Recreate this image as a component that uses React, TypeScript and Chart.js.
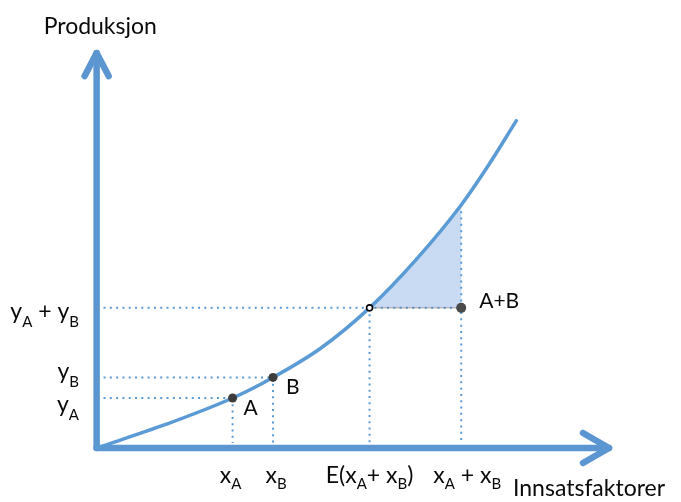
import React, { useEffect, useRef } from "react";
import { Chart, registerables } from "chart.js";

Chart.register(...registerables);

// Production curve (input on x, output on y)
const curveX = [0, 70, 138, 179, 227, 277, 324, 370, 398, 426];
const curveY = [0, 24, 51, 72, 101.5, 143, 192, 248, 289, 334];

// Marked points: A, B, E(xA+xB), A+B
const pointNames = ["A", "B", "E", "A+B"];
const pointX = [138, 179, 277, 370];
const pointY = [51, 72, 143, 143];

// Axis extents
const xAxisEnd = 520;
const yAxisEnd = 403;

// Tick labels ("_" = subscript of next char)
const xTickValues = [138, 179, 277, 370];
const xTickLabels = ["x_A", "x_B", "E(x_A+ x_B)", "x_A + x_B"];
const yTickValues = [51, 72, 143];
const yTickLabels = ["y_A", "y_B", "y_A + y_B"];

const yTitle = "Produksjon";
const xTitle = "Innsatsfaktorer";

const BLUE = "#5b9bd5";
const AXIS = "#5b96d0";
const FILL = "#c8dbf2";
const TEXT = "#0a0a0a";
const FONT = "Lato, 'Open Sans', sans-serif";

function drawRich(
  ctx: CanvasRenderingContext2D,
  text: string,
  x: number,
  y: number,
  align: "left" | "center" | "right",
  size: number,
  subSize: number,
  subShift: number
) {
  const parts: { t: string; sub: boolean }[] = [];
  let buf = "";
  for (let i = 0; i < text.length; i++) {
    if (text[i] === "_" && i + 1 < text.length) {
      if (buf) parts.push({ t: buf, sub: false });
      buf = "";
      parts.push({ t: text[i + 1], sub: true });
      i++;
    } else buf += text[i];
  }
  if (buf) parts.push({ t: buf, sub: false });
  const main = `${size}px ${FONT}`;
  const small = `${subSize}px ${FONT}`;
  let w = 0;
  const widths = parts.map((p) => {
    ctx.font = p.sub ? small : main;
    const m = ctx.measureText(p.t).width;
    w += m;
    return m;
  });
  let cx = align === "center" ? x - w / 2 : align === "right" ? x - w : x;
  ctx.textAlign = "left";
  ctx.textBaseline = "alphabetic";
  parts.forEach((p, i) => {
    ctx.font = p.sub ? small : main;
    ctx.fillText(p.t, cx, p.sub ? y + subShift : y);
    cx += widths[i];
  });
}

const CURVE_INDEX = 10;

const annotationPlugin = {
  id: "annotations",
  beforeDatasetsDraw(chart: any) {
    // shaded area between the curve and the yA+yB line, from E to A+B
    const ctx: CanvasRenderingContext2D = chart.ctx;
    const xs = chart.scales.x;
    const ys = chart.scales.y;
    const px = (v: number) => xs.getPixelForValue(v);
    const py = (v: number) => ys.getPixelForValue(v);
    const line = chart.getDatasetMeta(CURVE_INDEX).dataset;
    if (!line) return;
    line.updateControlPoints(chart.chartArea, "x");
    const x0 = px(pointX[2]);
    const x1 = px(pointX[3]);
    const yBase = py(pointY[2]);
    const yTop = py(curveY[curveY.length - 1]);
    ctx.save();
    ctx.beginPath();
    ctx.rect(x0, yTop, x1 - x0, yBase - yTop);
    ctx.clip();
    ctx.beginPath();
    line.path(ctx);
    ctx.lineTo(px(curveX[curveX.length - 1]), yBase);
    ctx.lineTo(px(curveX[0]), yBase);
    ctx.closePath();
    ctx.fillStyle = FILL;
    ctx.fill();
    ctx.restore();
  },
  afterDatasetsDraw(chart: any) {
    const ctx: CanvasRenderingContext2D = chart.ctx;
    const xs = chart.scales.x;
    const ys = chart.scales.y;
    const px = (v: number) => xs.getPixelForValue(v);
    const py = (v: number) => ys.getPixelForValue(v);
    ctx.save();

    // arrow heads
    ctx.strokeStyle = AXIS;
    ctx.lineWidth = 6.5;
    ctx.lineCap = "round";
    ctx.lineJoin = "round";
    const vx = px(0), vy = py(yAxisEnd);
    ctx.beginPath();
    ctx.moveTo(vx - 12, vy + 23);
    ctx.lineTo(vx, vy);
    ctx.lineTo(vx + 12, vy + 23);
    ctx.stroke();
    const hx = px(xAxisEnd), hy = py(0);
    ctx.beginPath();
    ctx.moveTo(hx - 26, hy - 15);
    ctx.lineTo(hx, hy);
    ctx.lineTo(hx - 26, hy + 15);
    ctx.stroke();

    ctx.fillStyle = TEXT;
    // x tick labels
    const xOff = [-2, 3, 0, 6];
    xTickLabels.forEach((l, i) => {
      drawRich(ctx, l, px(xTickValues[i]) + xOff[i], py(0) + 35, "center", 23, 15, 6);
    });
    // y tick labels
    const yOff = [13.5, 1.5, 11.5];
    yTickLabels.forEach((l, i) => {
      drawRich(ctx, l, 79, py(yTickValues[i]) + yOff[i], "right", 23, 15, 8);
    });
    // point labels
    const pOff = [
      [11, 17],
      [13, 17],
      null,
      [18, 0],
    ];
    pointNames.forEach((n, i) => {
      const o = pOff[i];
      if (!o) return;
      drawRich(ctx, n, px(pointX[i]) + o[0], py(pointY[i]) + o[1], "left", 21, 15, 6);
    });
    // axis titles
    drawRich(ctx, yTitle, px(0) - 53, py(yAxisEnd) - 19, "left", 23, 14, 6);
    drawRich(ctx, xTitle, px(xAxisEnd) - 96, py(0) + 48, "left", 23, 14, 6);
    ctx.restore();
  },
};

export default function App() {
  const ref = useRef<HTMLCanvasElement | null>(null);
  useEffect(() => {
    if (!ref.current) return;
    const curve = curveX.map((x, i) => ({ x, y: curveY[i] }));
    const iAB = curveX.indexOf(pointX[3]);
    const dotStart = 7;
    const dotEnd = 5;

    const dotted = (pts: { x: number; y: number }[]) => ({
      data: pts,
      borderColor: BLUE,
      borderWidth: 2,
      borderDash: [2, 4.3],
      pointRadius: 0,
      fill: false,
      order: 8,
    });

    const datasets: any[] = [
      // dotted guides A & B
      dotted([{ x: dotStart, y: pointY[0] }, { x: pointX[0], y: pointY[0] }]),
      dotted([{ x: pointX[0], y: pointY[0] }, { x: pointX[0], y: dotEnd }]),
      dotted([{ x: dotStart, y: pointY[1] }, { x: pointX[1], y: pointY[1] }]),
      dotted([{ x: pointX[1], y: pointY[1] }, { x: pointX[1], y: dotEnd }]),
      // yA+yB line through E to A+B
      dotted([{ x: dotStart, y: pointY[2] }, { x: pointX[3], y: pointY[3] }]),
      dotted([{ x: pointX[2], y: pointY[2] }, { x: pointX[2], y: dotEnd }]),
      dotted([{ x: pointX[3], y: curveY[iAB] }, { x: pointX[3], y: dotEnd }]),
      {
        data: [
          { x: pointX[2], y: pointY[2] },
          { x: pointX[3], y: pointY[3] },
        ],
        borderColor: "rgba(110,110,110,0.6)",
        borderWidth: 1,
        pointRadius: 0,
        fill: false,
        order: 7,
      },
      // axes
      {
        data: [{ x: 0, y: 0 }, { x: 0, y: yAxisEnd }],
        borderColor: AXIS,
        borderWidth: 6.5,
        borderCapStyle: "round",
        pointRadius: 0,
        fill: false,
        order: 5,
      },
      {
        data: [{ x: 0, y: 0 }, { x: xAxisEnd, y: 0 }],
        borderColor: AXIS,
        borderWidth: 6.5,
        borderCapStyle: "round",
        pointRadius: 0,
        fill: false,
        order: 5,
      },
      // curve (index CURVE_INDEX)
      {
        data: curve,
        borderColor: BLUE,
        borderWidth: 3.5,
        borderCapStyle: "round",
        cubicInterpolationMode: "monotone",
        pointRadius: 0,
        fill: false,
        order: 3,
      },
      // points
      {
        data: pointX.map((x, i) => ({ x, y: pointY[i] })),
        showLine: false,
        pointRadius: [4.5, 4.5, 3, 5],
        pointBackgroundColor: ["#3d3d3d", "#3d3d3d", "#ffffff", "#4a4a4a"],
        pointBorderColor: ["#3d3d3d", "#3d3d3d", "#000000", "#4a4a4a"],
        pointBorderWidth: [0, 0, 1.6, 0],
        order: 1,
      },
    ];

    const chart = new Chart(ref.current, {
      type: "line",
      data: { datasets },
      options: {
        animation: false,
        responsive: false,
        devicePixelRatio: 1,
        events: [],
        layout: { padding: 0 },
        plugins: { legend: { display: false }, tooltip: { enabled: false } },
        scales: {
          x: { type: "linear", min: -93, max: 588, display: false },
          y: { type: "linear", min: -50, max: 452, display: false },
        },
        elements: { line: { tension: 0 } },
      } as any,
      plugins: [annotationPlugin],
    });
    return () => chart.destroy();
  }, []);

  return (
    <div style={{ position: "absolute", left: 0, top: 0, width: 681, height: 502, background: "#fff" }}>
      <canvas ref={ref} width={681} height={502} style={{ display: "block" }} />
    </div>
  );
}
